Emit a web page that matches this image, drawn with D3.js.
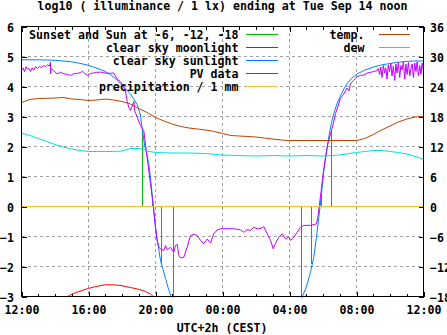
<!DOCTYPE html>
<html>
<head>
<meta charset="utf-8">
<script src="https://cdn.jsdelivr.net/npm/d3@7/dist/d3.min.js"></script>
<style>
  body { margin: 0; background: #fff; }
  svg text { font-family: "DejaVu Sans Mono", monospace; font-weight: bold; font-size: 11.6px; fill: #000; }
</style>
</head>
<body>
<svg id="chart" width="447" height="335"></svg>
<script>
// Hours are counted from 12:00 on the first day (0 .. 24).
const hourTicks = [0, 4, 8, 12, 16, 20, 24];
const hourTickLabels = ["12:00", "16:00", "20:00", "00:00", "04:00", "08:00", "12:00"];
const leftTicks = [6, 5, 4, 3, 2, 1, 0, -1, -2, -3];
const rightTicks = [36, 30, 24, 18, 12, 6, 0, -6, -12, -18];

// Sunset / sunrise and sun at -6, -12, -18 degrees: [hour, log10 lx]
const sunEvents = [
  [7.22, 2.55], [7.82, 0.38], [8.36, -1.95], [9.07, -3.5],
  [16.72, -3.5], [17.33, -1.9], [17.93, 0.38], [18.53, 2.55]
];

// Clear sky moonlight, log10 lx
const moonlight = [
  [2.7, -3.02], [2.9, -2.95], [3.2, -2.88], [3.5, -2.82], [4.0, -2.73], [4.5, -2.66],
  [5.0, -2.61], [5.5, -2.61], [6.0, -2.64], [6.5, -2.70], [7.0, -2.76], [7.4, -2.83],
  [7.7, -2.92], [7.9, -3.02]
];

// Clear sky sunlight, log10 lx (evening and morning parts)
const sunlightEvening = [
  [0, 4.89], [1.0, 4.89], [1.7, 4.88], [2.3, 4.86], [2.9, 4.83], [3.4, 4.78], [3.9, 4.72],
  [4.3, 4.65], [4.7, 4.57], [5.0, 4.50], [5.3, 4.40], [5.6, 4.27], [5.9, 4.10], [6.2, 3.93],
  [6.5, 3.75], [6.7, 3.58], [6.9, 3.40], [7.05, 3.15], [7.1, 3.05], [7.2, 2.6], [7.35, 2.05],
  [7.5, 1.7], [7.6, 1.4], [7.7, 0.95], [7.8, 0.4], [7.9, -0.2], [8.0, -0.7], [8.1, -1.1],
  [8.2, -1.45], [8.3, -1.8], [8.45, -2.1], [8.6, -2.4], [8.75, -2.7], [8.9, -2.95], [9.0, -3.15]
];
const sunlightMorning = [
  [16.7, -3.15], [16.8, -2.95], [16.96, -2.75], [17.1, -2.5], [17.25, -2.2], [17.45, -1.69],
  [17.61, -1.02], [17.75, -0.36], [17.89, 0.31], [18.05, 1.2], [18.25, 1.98], [18.41, 2.53],
  [18.55, 2.9], [18.7, 3.2], [18.85, 3.45], [19.04, 3.68], [19.25, 3.92], [19.44, 4.1],
  [19.7, 4.27], [20.04, 4.42], [20.5, 4.55], [21.03, 4.65], [21.5, 4.72], [22.03, 4.77],
  [22.5, 4.81], [23.03, 4.84], [23.5, 4.85], [24, 4.85]
];

// Photovoltaic measurement, log10 lx
const pvData = [
  [0, 4.55], [0.09, 4.62], [0.18, 4.5], [0.27, 4.66], [0.36, 4.58], [0.45, 4.6], [0.54, 4.5],
  [0.63, 4.62], [0.72, 4.55], [0.84, 4.66], [0.96, 4.6], [1.07, 4.67], [1.19, 4.62], [1.31, 4.7],
  [1.43, 4.66], [1.55, 4.72], [1.67, 4.68], [1.73, 4.81], [1.74, 4.42], [1.76, 4.6], [1.91, 4.53],
  [2.13, 4.42], [2.33, 4.47], [2.51, 4.43], [2.73, 4.4], [2.93, 4.37], [3.1, 4.42], [3.33, 4.44],
  [3.52, 4.46], [3.64, 4.51], [3.76, 4.44], [3.92, 4.37], [4.12, 4.43], [4.3, 4.45], [4.48, 4.47],
  [4.72, 4.48], [4.9, 4.46], [5.12, 4.44], [5.31, 4.44], [5.51, 4.45], [5.71, 4.25], [5.91, 4.16],
  [6.11, 3.98], [6.21, 3.85], [6.31, 3.5], [6.41, 3.3], [6.51, 3.2], [6.61, 3.35], [6.71, 3.5],
  [6.75, 3.2], [6.91, 2.98], [7.1, 2.7], [7.3, 2.53], [7.4, 2.09], [7.5, 1.64], [7.6, 1.2],
  [7.7, 0.76], [7.8, 0.31], [7.9, -0.13], [8.0, -0.69], [8.1, -1.13], [8.2, -1.36], [8.3, -1.41],
  [8.49, -1.47], [8.6, -1.3], [8.7, -1.45], [8.9, -1.36], [9.0, -1.45], [9.09, -1.52], [9.19, -1.3],
  [9.3, -1.27], [9.39, -1.63], [9.49, -1.71], [9.69, -1.69], [9.89, -1.36], [10.09, -0.97],
  [10.29, -0.93], [10.49, -0.97], [10.69, -1.13], [10.88, -1.24], [11.09, -1.08], [11.28, -1.22],
  [11.48, -0.91], [11.68, -0.78], [11.88, -0.74], [12.48, -0.74], [12.78, -0.75], [13.07, -0.78],
  [13.27, -0.86], [13.47, -0.77], [13.67, -0.8], [13.87, -0.69], [14.09, -0.75], [14.37, -0.71],
  [14.47, -0.67], [14.67, -0.91], [14.87, -1.13], [15.03, -1.41], [15.16, -1.24], [15.36, -1.02],
  [15.56, -0.91], [15.76, -1.08], [15.96, -1.02], [16.06, -1.13], [16.26, -1.02], [16.46, -0.86],
  [16.66, -0.69], [16.85, -0.63], [17.25, -0.63], [17.61, -0.58], [17.69, -0.36], [17.78, 0.03],
  [17.89, 0.53], [18.01, 1.09], [18.15, 1.64], [18.29, 2.09], [18.45, 2.42], [18.61, 2.75],
  [18.75, 3.1], [18.9, 3.35], [19.04, 3.6], [19.24, 3.75], [19.44, 3.95], [19.55, 3.85],
  [19.64, 4.09], [19.82, 4.2], [20.04, 4.33], [20.24, 4.37], [20.42, 4.38], [20.64, 4.45],
  [20.84, 4.47], [21.03, 4.5], [21.24, 4.53], [21.3, 4.6], [21.38, 4.4], [21.45, 4.65],
  [21.52, 4.3], [21.6, 4.7], [21.68, 4.45], [21.75, 4.62], [21.82, 4.25], [21.9, 4.72],
  [21.97, 4.5], [22.05, 4.78], [22.12, 4.35], [22.2, 4.68], [22.28, 4.2], [22.35, 4.75],
  [22.42, 4.45], [22.5, 4.8], [22.58, 4.3], [22.65, 4.7], [22.72, 4.55], [22.8, 4.82],
  [22.88, 4.25], [22.95, 4.75], [23.02, 4.4], [23.1, 4.8], [23.18, 4.35], [23.25, 4.6],
  [23.32, 4.75], [23.4, 4.3], [23.48, 4.78], [23.55, 4.5], [23.62, 4.82], [23.7, 4.35],
  [23.78, 4.7], [23.85, 4.4], [23.92, 4.78], [24.0, 4.5]
];

// Precipitation / 1 mm, log10
const precipitation = [[0, 0], [24, 0]];

// Temperature and dew point, degrees C (right axis)
const temperature = [
  [0, 20.8], [0.5, 21.4], [1, 21.6], [2, 21.7], [2.5, 21.8], [3, 21.5], [3.5, 21.4], [4, 21.2],
  [4.5, 21.3], [5, 21.5], [5.5, 21.3], [6, 21.0], [6.5, 20.5], [7, 19.6], [7.5, 18.8], [8, 17.8],
  [8.5, 17.1], [9, 16.5], [9.5, 16.0], [10, 15.7], [10.5, 15.5], [11, 15.3], [11.5, 15.0],
  [12, 14.6], [12.5, 14.2], [13, 14.1], [13.5, 14.0], [14, 13.9], [14.5, 13.7], [15, 13.5],
  [15.5, 13.3], [16, 13.2], [17, 13.2], [18, 13.2], [19, 13.2], [20, 13.2], [20.5, 13.6],
  [21, 14.4], [21.5, 15.3], [22, 16.1], [22.5, 16.9], [23, 17.5], [23.5, 17.9], [24, 18.0]
];
const dewPoint = [
  [0, 14.7], [0.5, 14.2], [1, 13.6], [1.5, 13.0], [2, 12.4], [2.5, 11.9], [3, 11.5], [3.5, 11.2],
  [4, 11.0], [4.5, 11.0], [5, 11.0], [5.5, 11.0], [6, 11.1], [6.5, 11.6], [7, 11.6], [7.3, 11.5],
  [7.5, 11.1], [8, 10.8], [9, 10.7], [10, 10.7], [11, 10.6], [12, 10.3], [13, 10.2], [14, 10.1],
  [15, 10.2], [16, 10.1], [17, 10.2], [18, 10.1], [19, 10.3], [20, 10.8], [21, 11.2],
  [21.5, 11.2], [22, 11.0], [22.5, 10.8], [23, 10.5], [23.5, 10.0], [24, 9.5]
];

const keyLeft = ["Sunset and Sun at -6, -12, -18", "clear sky moonlight", "clear sky sunlight", "PV data", "precipitation / 1 mm"];
const keyRight = ["temp.", "dew"];

const colors = {
  sun: "#00c000", moon: "#ff0000", sunlight: "#0080ff", pv: "#c000ff",
  rain: "#ffc020", temp: "#c04000", dew: "#00e0e0"
};

const plotLeft = 21, plotRight = 423, plotTop = 26, plotBottom = 296;

const svg = d3.select("#chart");
const x = d3.scaleLinear().domain([0, 24]).range([plotLeft, plotRight]);
const y = d3.scaleLinear().domain([-3, 6]).range([plotBottom, plotTop]);
const y2 = d3.scaleLinear().domain([-18, 36]).range([plotBottom, plotTop]);

svg.append("defs").append("clipPath").attr("id", "plot")
  .append("rect").attr("x", plotLeft).attr("y", plotTop)
  .attr("width", plotRight - plotLeft + 1).attr("height", plotBottom - plotTop + 1);

const root = svg.append("g").attr("transform", "translate(0.5,0.5)");

// grid
const grid = root.append("g").attr("stroke", "#a0a0a0").attr("stroke-dasharray", "3,3")
  .attr("shape-rendering", "crispEdges");
grid.selectAll("line.v").data(hourTicks.slice(1, -1)).join("line").attr("class", "v")
  .attr("x1", d => x(d)).attr("x2", d => x(d)).attr("y1", plotTop).attr("y2", plotBottom);
grid.selectAll("line.h").data(leftTicks.slice(1, -1)).join("line").attr("class", "h")
  .attr("x1", plotLeft).attr("x2", plotRight).attr("y1", d => y(d)).attr("y2", d => y(d));

// data
const plot = root.append("g").attr("clip-path", "url(#plot)").attr("fill", "none");
const line = d3.line().x(d => x(d[0])).y(d => y(d[1]));
const line2 = d3.line().x(d => x(d[0])).y(d => y2(d[1]));

plot.selectAll("line.sun").data(sunEvents).join("line").attr("class", "sun")
  .attr("stroke", colors.sun).attr("shape-rendering", "crispEdges")
  .attr("x1", d => x(d[0])).attr("x2", d => x(d[0]))
  .attr("y1", y(0)).attr("y2", d => y(d[1]));
plot.append("path").datum(moonlight).attr("d", line).attr("stroke", colors.moon);
plot.append("path").datum(sunlightEvening).attr("d", line).attr("stroke", colors.sunlight);
plot.append("path").datum(sunlightMorning).attr("d", line).attr("stroke", colors.sunlight);
plot.append("path").datum(pvData).attr("d", line).attr("stroke", colors.pv);
plot.append("path").datum(precipitation).attr("d", line).attr("stroke", colors.rain)
  .attr("shape-rendering", "crispEdges");
plot.append("path").datum(temperature).attr("d", line2).attr("stroke", colors.temp);
plot.append("path").datum(dewPoint).attr("d", line2).attr("stroke", colors.dew);

// border
root.append("rect").attr("x", plotLeft).attr("y", plotTop)
  .attr("width", plotRight - plotLeft).attr("height", plotBottom - plotTop)
  .attr("fill", "none").attr("stroke", "#000").attr("shape-rendering", "crispEdges");

// axes with inward ticks
function styleAxis(g) {
  g.select(".domain").remove();
  g.selectAll("line").attr("stroke", "#000").attr("shape-rendering", "crispEdges");
  g.attr("font-family", null).attr("font-size", null);
  g.selectAll("text").attr("fill", "#000");
}
const hourMinor = d3.range(0, 25);

root.append("g").attr("transform", `translate(0,${plotBottom})`)
  .call(d3.axisBottom(x).tickValues(hourMinor).tickSize(-3).tickFormat(""))
  .call(styleAxis);
root.append("g").attr("transform", `translate(0,${plotTop})`)
  .call(d3.axisTop(x).tickValues(hourMinor).tickSize(-3).tickFormat(""))
  .call(styleAxis);
root.append("g").attr("transform", `translate(0,${plotBottom})`)
  .call(d3.axisBottom(x).tickValues(hourTicks).tickSize(-5).tickPadding(9)
    .tickFormat((d, i) => hourTickLabels[i]))
  .call(styleAxis);
root.append("g").attr("transform", `translate(0,${plotTop})`)
  .call(d3.axisTop(x).tickValues(hourTicks).tickSize(-5).tickFormat(""))
  .call(styleAxis);
root.append("g").attr("transform", `translate(${plotLeft},0)`)
  .call(d3.axisLeft(y).tickValues(leftTicks).tickSize(-5).tickPadding(7.5).tickFormat(d3.format("d")))
  .call(styleAxis)
  .selectAll("text").attr("dy", "0.4em");
root.append("g").attr("transform", `translate(${plotRight},0)`)
  .call(d3.axisRight(y2).tickValues(rightTicks).tickSize(-5).tickPadding(6.5).tickFormat(d3.format("d")))
  .call(styleAxis)
  .selectAll("text").attr("dy", "0.4em");

// title and axis label
svg.append("text").attr("x", 222.5).attr("y", 10).attr("text-anchor", "middle")
  .text("log10 ( illuminance / 1 lx) ending at Tue Sep 14 noon");
svg.append("text").attr("x", 222).attr("y", 331.5).attr("text-anchor", "middle")
  .text("UTC+2h (CEST)");

// keys
const keyColorsLeft = [colors.sun, colors.moon, colors.sunlight, colors.pv, colors.rain];
const keyColorsRight = [colors.temp, colors.dew];
const kl = root.append("g");
keyLeft.forEach((t, i) => {
  const ky = 34 + i * 13;
  kl.append("text").attr("x", 238).attr("y", ky + 4.5).attr("text-anchor", "end").text(t);
  kl.append("line").attr("x1", 245).attr("x2", 277).attr("y1", ky).attr("y2", ky)
    .attr("stroke", keyColorsLeft[i]).attr("shape-rendering", "crispEdges");
});
keyRight.forEach((t, i) => {
  const ky = 34 + i * 13;
  kl.append("text").attr("x", 364).attr("y", ky + 4.5).attr("text-anchor", "end").text(t);
  kl.append("line").attr("x1", 378).attr("x2", 409).attr("y1", ky).attr("y2", ky)
    .attr("stroke", keyColorsRight[i]).attr("shape-rendering", "crispEdges");
});
</script>
</body>
</html>
